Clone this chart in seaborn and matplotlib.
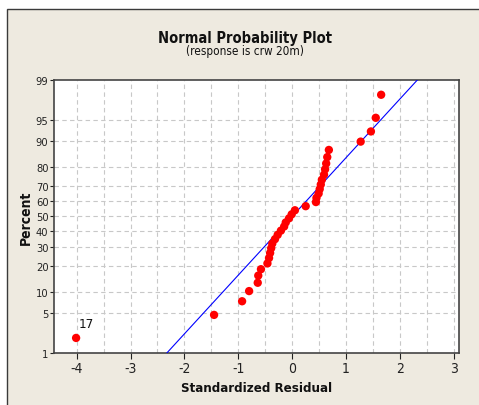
import matplotlib
matplotlib.use("Agg")
import matplotlib.pyplot as plt
from matplotlib.patches import Rectangle
import seaborn as sns
import pandas as pd
import numpy as np
from statistics import NormalDist

# Standardized residuals (sorted) for response crw 20m
residuals = [-4.01, -1.45, -0.93, -0.80, -0.64, -0.63, -0.58, -0.46, -0.43,
             -0.41, -0.39, -0.37, -0.32, -0.27, -0.21, -0.15, -0.12, -0.06,
             -0.01, 0.05, 0.25, 0.44, 0.45, 0.49, 0.51, 0.53, 0.55, 0.59,
             0.61, 0.63, 0.65, 0.68, 1.27, 1.46, 1.55, 1.65]
percent_ticks = [1, 5, 10, 20, 30, 40, 50, 60, 70, 80, 90, 95, 99]
x_ticks = [-4, -3, -2, -1, 0, 1, 2, 3]
flagged_label = "17"
ref_mean, ref_sd = 0.0, 1.0

nd = NormalDist()
n = len(residuals)
ranks = np.arange(1, n + 1)
plot_pos = (ranks - 0.3) / (n + 0.4)          # median ranks
pts = pd.DataFrame({"resid": sorted(residuals),
                    "z": [nd.inv_cdf(p) for p in plot_pos]})
zz = np.linspace(-2.6, 2.6, 60)
ref = pd.DataFrame({"resid": ref_mean + ref_sd * zz, "z": zz})

sns.set_style("white")
plt.rcParams["font.family"] = ["DejaVu Sans"]
plt.rcParams["font.stretch"] = "condensed"

W, H = 479, 406
fig = plt.figure(figsize=(W / 100, H / 100), dpi=100, facecolor="white")
fig.patches.append(Rectangle((7 / W, -0.01), 1.0, (H - 10) / H + 0.01,
                             transform=fig.transFigure, facecolor="#EEEAE0",
                             edgecolor="#3a3a3a", linewidth=1.0, zorder=-5))

ax = fig.add_axes([54 / W, 52 / H, 405.3 / W, 273.3 / H])
ax.set_facecolor("white")
ax.set_zorder(2)

zlim = nd.inv_cdf(0.99)

# grid
for xv in np.arange(-4, 3.01, 0.5):
    ax.axvline(xv, color="#c8c8c8", lw=0.8, ls=(0, (4, 3)), zorder=1)
for p in percent_ticks[1:-1]:
    ax.axhline(nd.inv_cdf(p / 100), color="#c8c8c8", lw=0.8, ls=(0, (4, 3)), zorder=1)

sns.lineplot(data=ref, x="resid", y="z", ax=ax, color="#0000ff", lw=0.8,
             zorder=3, sort=False)
sns.scatterplot(data=pts, x="resid", y="z", ax=ax, color="#ff0000", s=36,
                edgecolor="none", zorder=4)
ax.annotate(flagged_label, (pts["resid"].iloc[0], pts["z"].iloc[0]),
            xytext=(1.5, 8), textcoords="offset points", fontsize=9.5,
            color="#111111")

ax.set_xlim(-4.42, 3.10)
ax.set_ylim(-zlim, zlim)
ax.set_xticks(x_ticks)
ax.set_xticklabels([str(v) for v in x_ticks])
ax.set_yticks([nd.inv_cdf(p / 100) for p in percent_ticks])
ax.set_yticklabels([str(p) for p in percent_ticks])
ax.tick_params(axis="x", direction="out", length=4, width=0.8, pad=2,
               labelsize=10, colors="#222222", bottom=True)
ax.tick_params(axis="y", direction="out", length=3, width=0.8, pad=1,
               labelsize=8, colors="#222222", left=True)
for s in ax.spines.values():
    s.set_color("#444444")
    s.set_linewidth(1.2)

ax.set_xlabel("Standardized Residual", fontsize=9.5, fontweight="bold",
              labelpad=4, color="#111111")
ax.set_ylabel("Percent", fontsize=10, fontweight="bold", labelpad=2,
              color="#111111")

fig.text(245 / W, 1 - 39 / H, "Normal Probability Plot", ha="center",
         va="center", fontsize=10.5, fontweight="bold", color="#111111")
fig.text(245 / W, 1 - 52 / H, "(response is crw 20m)", ha="center",
         va="center", fontsize=8.5, color="#111111")

fig.savefig("out.png", dpi=100, facecolor=fig.get_facecolor())
